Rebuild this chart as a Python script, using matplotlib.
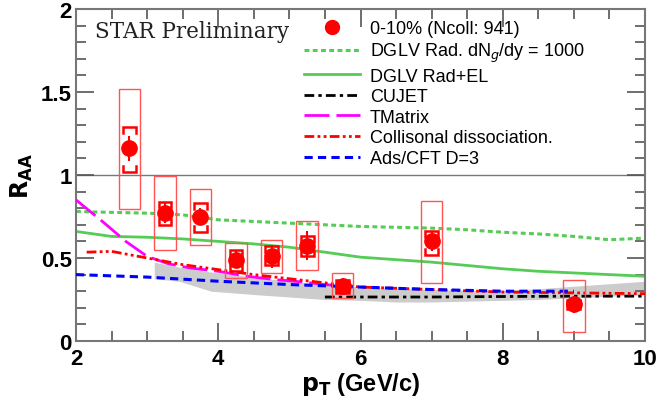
import numpy as np
import matplotlib
matplotlib.use('Agg')
import matplotlib.pyplot as plt
from matplotlib.lines import Line2D
from matplotlib.patches import Rectangle
from matplotlib.ticker import MultipleLocator

# Data points (0-10%)
pt = [2.75, 3.25, 3.75, 4.25, 4.75, 5.25, 5.75, 7.0, 9.0]
raa = [1.16, 0.77, 0.75, 0.49, 0.51, 0.575, 0.33, 0.60, 0.22]
stat_err = [0.075, 0.06, 0.05, 0.05, 0.07, 0.085, 0.05, 0.06, 0.05]
brk_hi = [1.29, 0.84, 0.83, 0.55, 0.57, 0.63, 0.37, 0.66, 0.25]
brk_lo = [1.02, 0.70, 0.656, 0.42, 0.46, 0.51, 0.29, 0.52, 0.19]
box_hi = [1.52, 0.995, 0.915, 0.59, 0.61, 0.72, 0.41, 0.845, 0.37]
box_lo = [0.795, 0.55, 0.58, 0.38, 0.41, 0.43, 0.26, 0.35, 0.053]

# Model curves
dglv_x = [2, 2.5, 3, 3.5, 4, 4.5, 5, 5.5, 6, 6.5, 7, 7.5, 8, 8.5, 9, 9.5, 10]
dglv_rad = [0.78, 0.775, 0.77, 0.76, 0.73, 0.72, 0.71, 0.70, 0.69, 0.685, 0.68,
            0.67, 0.655, 0.645, 0.63, 0.61, 0.62]
dglv_el = [0.66, 0.63, 0.625, 0.615, 0.60, 0.585, 0.565, 0.535, 0.505, 0.49,
           0.475, 0.455, 0.435, 0.42, 0.41, 0.40, 0.39]

cujet_x = [5.5, 6, 7, 8, 9, 10]
cujet_y = [0.265, 0.265, 0.265, 0.268, 0.27, 0.27]

tmat_x = [2.0, 2.2, 2.4, 2.7, 3.0, 3.3, 3.6, 4.0, 4.4, 4.8, 5.2, 5.5, 5.8]
tmat_y = [0.85, 0.78, 0.71, 0.60, 0.51, 0.465, 0.44, 0.42, 0.39, 0.37, 0.355, 0.34, 0.33]

coll_x = [2.15, 2.5, 3, 3.5, 4, 4.5, 5, 5.5, 6, 7, 8, 9, 10]
coll_y = [0.535, 0.54, 0.50, 0.46, 0.43, 0.40, 0.375, 0.35, 0.325, 0.31, 0.295,
          0.29, 0.285]

ads_x = [2, 3, 4, 5, 6, 7, 8, 9]
ads_y = [0.40, 0.385, 0.36, 0.34, 0.325, 0.31, 0.30, 0.30]

band_x = [3.1, 3.45, 3.9, 4.5, 5, 5.5, 6, 6.5, 7, 7.5, 8, 8.5, 9, 9.5, 10]
band_hi = [0.475, 0.445, 0.415, 0.385, 0.36, 0.34, 0.325, 0.315, 0.31, 0.305,
           0.305, 0.315, 0.33, 0.345, 0.36]
band_lo = [0.375, 0.36, 0.30, 0.28, 0.265, 0.25, 0.245, 0.235, 0.235, 0.24,
           0.245, 0.25, 0.26, 0.27, 0.28]

plt.rcParams['font.family'] = ['Liberation Sans', 'DejaVu Sans']

fig = plt.figure(figsize=(6.58, 4.02), dpi=100)
ax = fig.add_axes([76 / 658, 60 / 402, 569 / 658, 332 / 402])

# theory band and curves
ax.fill_between(band_x, band_lo, band_hi, color='#cccccc', lw=0, zorder=1)
ax.axhline(1.0, color='#777777', lw=1, zorder=1)

green = '#55cc55'
ax.plot(dglv_x, dglv_rad, color=green, lw=2.2, dashes=(1.6, 1.1), zorder=2)
ax.plot(dglv_x, dglv_el, color=green, lw=2.0, zorder=2)
ax.plot(cujet_x, cujet_y, color='black', lw=2.0,
        dashes=(3.5, 1.5, 1.2, 1.5), zorder=3)
ax.plot(tmat_x, tmat_y, color='#ff00ff', lw=2.0, dashes=(9, 2.5), zorder=3)
ax.plot(coll_x, coll_y, color='red', lw=2.0,
        dashes=(3.5, 1.2, 1, 1.2, 1, 1.2), zorder=3)
ax.plot(ads_x, ads_y, color='blue', lw=2.2, dashes=(2.7, 1.7), zorder=3)

# systematic boxes
for x, lo, hi in zip(pt, box_lo, box_hi):
    ax.add_patch(Rectangle((x - 0.15, lo), 0.3, hi - lo, fill=False,
                           edgecolor='#ff5555', lw=1.0, zorder=4))

# brackets
bw = 0.09
bt = 0.035
for x, lo, hi in zip(pt, brk_lo, brk_hi):
    ax.plot([x - bw, x - bw, x + bw, x + bw], [hi - bt, hi, hi, hi - bt],
            color='red', lw=1.8, zorder=5, solid_joinstyle='miter')
    ax.plot([x - bw, x - bw, x + bw, x + bw], [lo + bt, lo, lo, lo + bt],
            color='red', lw=1.8, zorder=5, solid_joinstyle='miter')

ax.errorbar(pt, raa, yerr=stat_err, fmt='o', color='red', ms=11, elinewidth=1.5,
            capsize=0, zorder=6)

ax.set_xlim(2, 10)
ax.set_ylim(0, 2)
ax.xaxis.set_major_locator(MultipleLocator(2))
ax.xaxis.set_minor_locator(MultipleLocator(0.5))
ax.yaxis.set_major_locator(MultipleLocator(0.5))
ax.yaxis.set_minor_locator(MultipleLocator(0.1))
ax.set_yticks([0, 0.5, 1, 1.5, 2])
ax.set_yticklabels(['0', '0.5', '1', '1.5', '2'])
ax.tick_params(which='both', direction='in', top=True, right=True,
               color='#555555', width=1.2)
ax.tick_params(which='major', length=13)
ax.tick_params(which='minor', length=7)
ax.tick_params(axis='x', which='major', pad=5, labelsize=16)
ax.tick_params(axis='y', which='major', pad=3, labelsize=16)
for lbl in ax.get_xticklabels() + ax.get_yticklabels():
    lbl.set_fontweight('bold')
for sp in ax.spines.values():
    sp.set_color('#777777')
    sp.set_linewidth(1.5)

ax.set_xlabel(r'$\mathbf{p_T}$ (GeV/c)', fontsize=17, fontweight='bold', labelpad=1)
ax.set_ylabel(r'$\mathbf{R_{AA}}$', fontsize=17, fontweight='bold', labelpad=4)

ax.text(0.033, 0.935, 'STAR Preliminary', transform=ax.transAxes,
        family='DejaVu Serif', fontsize=15.5, color='#222222', va='center')

handles = [
    Line2D([], [], color='red', marker='o', ls='none', ms=10),
    Line2D([], [], color=green, lw=2.2, dashes=(1.6, 1.1)),
    Line2D([], [], color=green, lw=2.0),
    Line2D([], [], color='black', lw=2.0, dashes=(3.5, 1.5, 1.2, 1.5)),
    Line2D([], [], color='#ff00ff', lw=2.0, dashes=(9, 2.5)),
    Line2D([], [], color='red', lw=2.0, dashes=(3.5, 1.2, 1, 1.2, 1, 1.2)),
    Line2D([], [], color='blue', lw=2.2, dashes=(2.7, 1.7)),
]
labels = ['0-10% (Ncoll: 941)', r'DGLV Rad. dN$_g$/dy = 1000', 'DGLV Rad+EL',
          'CUJET', 'TMatrix', 'Collisonal dissociation.', 'Ads/CFT D=3']
ax.legend(handles, labels, loc='upper left', bbox_to_anchor=(0.375, 1.01),
          frameon=False, fontsize=13, handlelength=3.1, handletextpad=0.55,
          labelspacing=0.2, borderpad=0.3)

fig.savefig('out.png', dpi=100)
